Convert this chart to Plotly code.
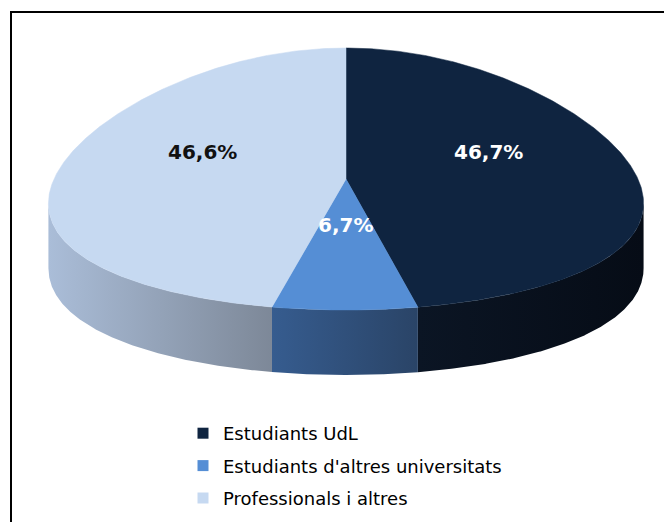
import numpy as np
import plotly.graph_objects as go

categories = ["Estudiants UdL", "Estudiants d'altres universitats", "Professionals i altres"]
values = [46.7, 6.7, 46.6]
labels = ["46,7%", "6,7%", "46,6%"]

top_colors = ["#0F2440", "#558ED5", "#C6D9F1"]
side_colors = [("#0B1524", "#060C16"), ("#365C8F", "#2A4467"), ("#AABDD8", "#7D8898")]
label_colors = ["#FFFFFF", "#FFFFFF", "#111111"]
label_pos = [(488, 152), (345, 225), (202, 152)]

# geometry of the tilted pie (pixels)
CX, CY, R, RY, K, DEPTH = 346, 179, 292, 131, 0.2, 65
OFF = 8  # page body margin


def rim(theta_deg, drop=0.0):
    t = np.radians(theta_deg)
    x = CX + R * np.sin(t) * (1 - K * np.cos(t))
    y = CY - RY * np.cos(t) + drop
    return x, y


grid = np.linspace(0, 360, 3601)
gx, _ = rim(grid)
theta_right = grid[np.argmax(gx)]
theta_left = grid[np.argmin(gx)]

total = sum(values)
bounds = np.concatenate([[0], np.cumsum(values) / total * 360])

fig = go.Figure()

# legend entries
for i, name in enumerate(categories):
    fig.add_trace(go.Scatter(
        x=[None], y=[None], mode="markers", name=name, legendgroup=str(i),
        marker=dict(symbol="square", size=11, color=top_colors[i]),
        hoverinfo="skip"))

# side walls
for i in range(len(values)):
    a, b = bounds[i], bounds[i + 1]
    a2, b2 = max(a, theta_right), min(b, theta_left)
    if b2 <= a2:
        continue
    th = np.linspace(a2, b2, 200)
    xt, yt = rim(th)
    xb, yb = rim(th[::-1], DEPTH)
    xs = np.concatenate([xt, xb, xt[:1]])
    ys = np.concatenate([yt, yb, yt[:1]])
    fig.add_trace(go.Scatter(
        x=xs, y=ys, mode="lines", fill="toself", line=dict(width=0),
        fillgradient=dict(type="horizontal",
                          colorscale=[[0, side_colors[i][0]], [1, side_colors[i][1]]]),
        showlegend=False, hoverinfo="skip"))

# top faces
for i in range(len(values)):
    a, b = bounds[i], bounds[i + 1]
    th = np.linspace(a, b, 400)
    xt, yt = rim(th)
    xs = np.concatenate([[CX], xt, [CX]])
    ys = np.concatenate([[CY], yt, [CY]])
    fig.add_trace(go.Scatter(
        x=xs, y=ys, mode="lines", fill="toself", fillcolor=top_colors[i],
        line=dict(width=0.5, color=top_colors[i]),
        showlegend=False, hoverinfo="skip"))

for i, txt in enumerate(labels):
    fig.add_annotation(x=label_pos[i][0], y=label_pos[i][1], text=f"<b>{txt}</b>",
                       showarrow=False, xref="x", yref="y",
                       font=dict(family="DejaVu Sans", size=20, color=label_colors[i]))

fig.add_shape(type="rect", x0=11, y0=12, x1=720, y1=580, xref="x", yref="y",
              line=dict(color="#000000", width=2))

fig.update_layout(
    width=672, height=522,
    margin=dict(l=0, r=0, t=0, b=0),
    paper_bgcolor="white", plot_bgcolor="white",
    xaxis=dict(range=[OFF, 672 + OFF], visible=False, fixedrange=True),
    yaxis=dict(range=[522 + OFF, OFF], visible=False, fixedrange=True),
    showlegend=True,
    legend=dict(x=175 / 672, xanchor="left", y=1 - 407 / 522, yanchor="top",
                font=dict(family="DejaVu Sans", size=18, color="#000000"),
                tracegroupgap=6, bgcolor="rgba(0,0,0,0)"),
)

fig.write_html("out.html")
